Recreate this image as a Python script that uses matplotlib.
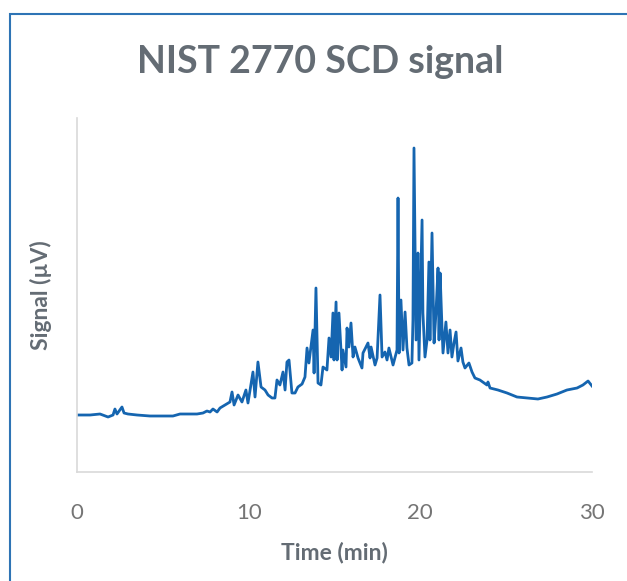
import matplotlib
matplotlib.use("Agg")
from matplotlib import pyplot as plt
from matplotlib.patches import Rectangle

plt.rcParams['font.family'] = ['Lato', 'DejaVu Sans']

# retention time (min)
time = [0.06, 0.76, 1.34, 1.81, 2.10, 2.21, 2.33, 2.62, 2.74, 2.97,
        3.50, 4.25, 5.01, 5.59, 6.00, 6.58, 6.99, 7.34, 7.57, 7.75,
        7.92, 8.16, 8.33, 8.62, 8.91, 9.03, 9.15, 9.38, 9.61, 9.84,
        9.96, 10.25, 10.37, 10.54, 10.72, 10.95, 11.13, 11.36, 11.53, 11.65,
        11.82, 12.00, 12.12, 12.23, 12.35, 12.52, 12.70, 12.87, 13.11, 13.28,
        13.40, 13.51, 13.75, 13.81, 13.92, 14.04, 14.21, 14.33, 14.56, 14.68,
        14.80, 14.91, 14.97, 15.09, 15.15, 15.26, 15.44, 15.49, 15.67, 15.73,
        15.84, 15.96, 16.08, 16.19, 16.37, 16.60, 16.66, 16.95, 17.07, 17.13,
        17.36, 17.48, 17.65, 17.77, 17.94, 18.06, 18.17, 18.41, 18.52, 18.64,
        18.70, 18.76, 18.87, 18.99, 19.11, 19.22, 19.34, 19.51, 19.57, 19.63,
        19.75, 19.86, 19.92, 20.10, 20.15, 20.27, 20.39, 20.50, 20.56, 20.68,
        20.80, 20.91, 21.03, 21.09, 21.15, 21.26, 21.32, 21.49, 21.61, 21.73,
        21.84, 21.96, 22.08, 22.19, 22.37, 22.48, 22.60, 22.83, 23.01, 23.18,
        23.47, 23.88, 23.94, 24.06, 24.52, 25.05, 25.63, 26.21, 26.85, 27.38,
        27.96, 28.54, 29.13, 29.47, 29.77, 30.00]

# SCD signal (uV)
signal = [57, 57, 58, 55, 57, 63, 58, 65, 59, 58,
          57, 56, 56, 56, 58, 58, 58, 59, 61, 60,
          63, 60, 64, 67, 70, 80, 67, 77, 70, 82,
          69, 100, 75, 110, 85, 82, 77, 74, 74, 92,
          87, 100, 82, 110, 112, 79, 79, 85, 88, 95,
          124, 109, 142, 99, 184, 89, 87, 105, 102, 134,
          115, 159, 112, 170, 112, 159, 102, 122, 105, 144,
          125, 149, 115, 125, 114, 104, 119, 129, 114, 125,
          107, 114, 177, 115, 120, 112, 124, 107, 114, 122,
          274, 119, 172, 122, 160, 124, 107, 109, 152, 324,
          132, 219, 112, 252, 159, 115, 132, 210, 132, 239,
          129, 159, 204, 132, 199, 145, 119, 150, 119, 142,
          115, 129, 140, 111, 124, 110, 104, 109, 100, 94,
          92, 87, 90, 84, 82, 79, 75, 74, 73, 75,
          78, 82, 84, 87, 91, 86]

xticks = [0, 10, 20, 30]

grey = '#646c74'

fig = plt.figure(figsize=(6.27, 5.81), dpi=100)
ax = fig.add_axes([0.1228, 0.1876, 0.8214, 0.6093])

ax.plot(time, signal, color='#1565b0', linewidth=2.0)

ax.set_xlim(0, 30)
ax.set_ylim(0, 354)
ax.set_xticks(xticks)
ax.set_xticklabels([str(t) for t in xticks])
ax.set_yticks([])
ax.tick_params(axis='x', length=0, pad=22, labelsize=16, labelcolor='#757575')

for side in ['top', 'right']:
    ax.spines[side].set_visible(False)
ax.spines['left'].set_color('#d9d9d9')
ax.spines['bottom'].set_color('#d9d9d9')
ax.spines['left'].set_linewidth(1.2)
ax.spines['bottom'].set_linewidth(1.2)

ax.set_xlabel('Time (min)', fontsize=16.5, fontweight='bold', color=grey, labelpad=14)
ax.set_ylabel('Signal (µV)', fontsize=16.5, fontweight='bold', color=grey, labelpad=18)

fig.text(0.511, 0.893, 'NIST 2770 SCD signal', ha='center', va='center',
         fontsize=27, fontweight='bold', color=grey)

# outer chart frame
fig.patches.append(Rectangle((0.016, -0.1), 1.2, 1.076, transform=fig.transFigure,
                             fill=False, edgecolor='#2e74b5', linewidth=1.5))

fig.savefig('out.png', dpi=100)
